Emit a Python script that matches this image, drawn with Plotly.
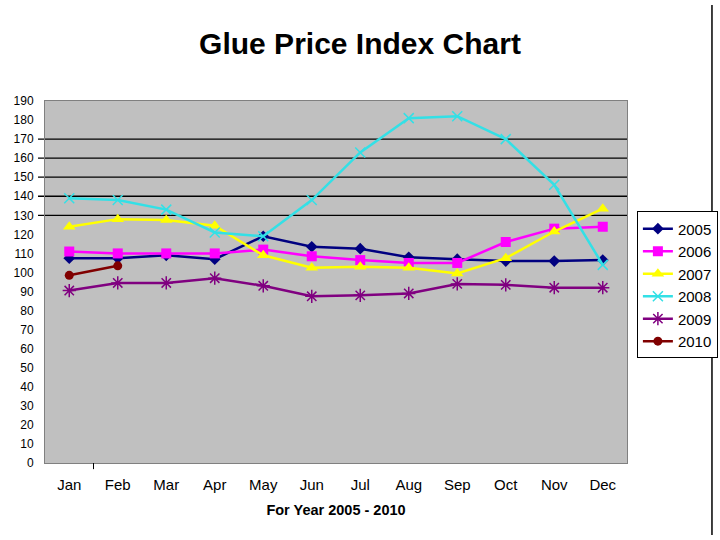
import plotly.graph_objects as go

months = ["Jan", "Feb", "Mar", "Apr", "May", "Jun", "Jul", "Aug", "Sep", "Oct", "Nov", "Dec"]
y2005 = [107.5, 107.5, 109, 107, 119, 113.5, 112.5, 108, 107, 106, 106, 106.5]
y2006 = [111, 110, 110, 110, 112, 108.5, 106.5, 105, 105, 116, 123, 124]
y2007 = [124, 128, 127.5, 124.5, 109, 102.5, 103, 102.5, 99.5, 107.5, 121.5, 133.5]
y2008 = [139, 138, 133, 121, 119, 138, 163, 181, 182, 170, 146, 104]
y2009 = [90.5, 94.5, 94.5, 97, 93, 87.5, 88, 89, 94, 93.5, 92, 92]
y2010 = [98.5, 103.5]
grid_levels = [130, 140, 150, 160, 170]

series = [
    ("2005", y2005, "#000080", "diamond", 9, None),
    ("2006", y2006, "#FF00FF", "square", 10, None),
    ("2007", y2007, "#FFFF00", "triangle-up", 11, None),
    ("2008", y2008, "#33E0E6", "x-thin-open", 10, 1.5),
    ("2009", y2009, "#800080", "asterisk-open", 11, 1.5),
    ("2010", y2010, "#800000", "circle", 9, None),
]

fig = go.Figure()
for name, vals, color, sym, size, lw in series:
    marker = dict(symbol=sym, size=size, color=color)
    if lw:
        marker["line"] = dict(color=color, width=lw)
    else:
        marker["line"] = dict(width=0)
    fig.add_trace(go.Scatter(
        x=months[:len(vals)], y=vals, name=name, mode="lines+markers",
        line=dict(color=color, width=2.5), marker=marker,
    ))

for g in grid_levels:
    fig.add_shape(type="line", xref="paper", x0=-0.012, x1=1, yref="y", y0=g, y1=g,
                  line=dict(color="black", width=1.3), layer="below")

# small tick mark below the axis and the right-hand frame line
fig.add_shape(type="line", xref="x", x0=0.5, x1=0.5, yref="paper", y0=0, y1=-0.017,
              line=dict(color="black", width=1))
fig.add_shape(type="line", xref="paper", x0=1.146, x1=1.146, yref="paper", y0=1.265, y1=-0.199,
              line=dict(color="black", width=1.5))

fig.update_layout(
    width=720, height=540,
    margin=dict(l=45, r=93, t=101, b=77, autoexpand=False),
    paper_bgcolor="white",
    plot_bgcolor="#C0C0C0",
    font=dict(family="Liberation Sans, Arial, sans-serif", color="black"),
    title=dict(text="<b>Glue Price Index Chart</b>", x=0.5, xanchor="center",
               y=1 - 43 / 540, yanchor="middle", font=dict(size=30, color="black")),
    showlegend=True,
    legend=dict(x=1.017, xanchor="left", y=0.695, yanchor="top",
                bgcolor="white", bordercolor="black", borderwidth=1,
                font=dict(size=15), tracegroupgap=0, itemwidth=30),
    xaxis=dict(
        type="category", range=[-0.5, 11.5], showgrid=False, zeroline=False,
        showline=True, linecolor="#808080", linewidth=1, mirror=True, automargin=False,
        tickfont=dict(size=15), ticks="", ticklabelstandoff=8,
        title=dict(text="<b>For Year 2005 - 2010</b>", font=dict(size=14.5), standoff=12),
    ),
    yaxis=dict(
        range=[0, 190], dtick=10, showgrid=False, zeroline=False, automargin=False,
        showline=True, linecolor="#808080", linewidth=1, mirror=True,
        tickfont=dict(size=12), ticks="", ticklabelstandoff=8,
    ),
)

fig.write_html("out.html", config={"displayModeBar": False},
               post_script="document.body.style.margin='0';document.body.style.overflow='hidden';")
